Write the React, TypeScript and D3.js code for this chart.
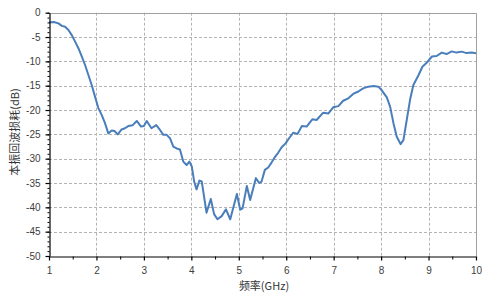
import * as d3 from 'd3';
import { useEffect, useRef } from 'react';

// frequency (GHz) and LO return loss (dB)
const freq = [
  1.0, 1.1, 1.2, 1.27, 1.34, 1.41, 1.48, 1.55, 1.62, 1.69,
  1.76, 1.83, 1.9, 1.97, 2.04, 2.11, 2.18, 2.25, 2.32, 2.38,
  2.45, 2.53, 2.6, 2.67, 2.76, 2.85, 2.94, 3.0, 3.06, 3.16,
  3.26, 3.34, 3.41, 3.48, 3.55, 3.62, 3.69, 3.76, 3.83, 3.9,
  3.96, 4.01, 4.06, 4.11, 4.17, 4.22, 4.32, 4.41, 4.48, 4.55,
  4.64, 4.73, 4.82, 4.96, 5.03, 5.08, 5.17, 5.24, 5.36, 5.43,
  5.48, 5.55, 5.62, 5.69, 5.76, 5.83, 5.9, 5.99, 6.06, 6.15,
  6.24, 6.33, 6.43, 6.55, 6.64, 6.78, 6.89, 6.99, 7.1, 7.2,
  7.31, 7.41, 7.52, 7.62, 7.73, 7.84, 7.94, 8.01, 8.12, 8.19,
  8.26, 8.33, 8.41, 8.47, 8.54, 8.61, 8.68, 8.79, 8.87, 8.96,
  9.07, 9.17, 9.28, 9.38, 9.49, 9.59, 9.7, 9.8, 9.91, 10.0,
];
const returnLoss = [
  -2.0, -1.9, -2.2, -2.7, -2.9, -3.55, -4.6, -5.95, -7.3, -9.0,
  -10.75, -12.8, -14.85, -17.25, -19.6, -21.0, -22.7, -24.8, -24.2, -24.3,
  -25.0, -24.0, -23.75, -23.3, -23.15, -22.25, -23.4, -23.3, -22.25, -23.75,
  -23.1, -24.1, -25.1, -25.1, -25.8, -27.5, -27.9, -28.1, -30.6, -31.3,
  -30.6, -31.6, -34.7, -36.3, -34.5, -34.7, -41.1, -38.3, -41.4, -42.45,
  -41.8, -40.4, -42.45, -37.25, -40.5, -40.2, -35.6, -38.5, -34.0, -35.0,
  -34.7, -32.3, -31.8, -30.8, -29.7, -28.8, -27.7, -26.8, -25.8, -24.65,
  -24.9, -23.3, -23.4, -21.9, -22.05, -20.55, -20.7, -19.45, -19.2, -18.1,
  -17.6, -16.7, -16.2, -15.55, -15.2, -15.05, -15.2, -15.9, -17.4, -19.3,
  -22.7, -25.5, -27.0, -26.2, -22.05, -17.9, -14.85, -12.8, -11.1, -10.3,
  -9.0, -8.9, -8.2, -8.5, -7.95, -8.2, -8.0, -8.3, -8.2, -8.35,
];
const xTicks = [1, 2, 3, 4, 5, 6, 7, 8, 9, 10];
const yTicks = [0, -5, -10, -15, -20, -25, -30, -35, -40, -45, -50];
const xLabel = '频率(GHz)';
const yLabel = '本振回波损耗(dB)';

const W = 482;
const H = 293;

const App = () => {
  const ref = useRef<SVGSVGElement>(null);

  useEffect(() => {
    const svg = d3.select(ref.current);
    svg.selectAll('*').remove();

    const x = d3.scaleLinear().domain([1, 10]).range([49, 476]);
    const y = d3.scaleLinear().domain([0, -50]).range([12.7, 256]);
    const [x0, x1] = x.range();
    const [y0, y1] = y.range();

    const grid = svg.append('g');
    grid
      .selectAll('line.v')
      .data(xTicks.slice(1, -1))
      .enter()
      .append('line')
      .attr('x1', (d) => Math.round(x(d)) + 0.5)
      .attr('x2', (d) => Math.round(x(d)) + 0.5)
      .attr('y1', y0)
      .attr('y2', y1)
      .style('stroke', '#b4b4b4')
      .style('stroke-dasharray', '3,2');
    grid
      .selectAll('line.h')
      .data(yTicks.slice(1, -1))
      .enter()
      .append('line')
      .attr('x1', x0)
      .attr('x2', x1)
      .attr('y1', (d) => Math.round(y(d)) + 0.5)
      .attr('y2', (d) => Math.round(y(d)) + 0.5)
      .style('stroke', '#b4b4b4')
      .style('stroke-dasharray', '3,2');

    // top and right frame
    svg
      .append('path')
      .attr('d', `M${x0},${Math.round(y0) + 0.5}H${Math.round(x1) + 0.5}V${y1}`)
      .style('fill', 'none')
      .style('stroke', '#a0a0a0');

    const line = d3
      .line<number>()
      .x((d, i) => x(freq[i]))
      .y((d) => y(d))
      .curve(d3.curveLinear);
    svg
      .append('path')
      .datum(returnLoss)
      .attr('d', line)
      .style('fill', 'none')
      .style('stroke', '#4a7ebb')
      .style('stroke-width', 2)
      .style('stroke-linejoin', 'round');

    const tickFont = (g) =>
      g
        .selectAll('text')
        .style('font-family', '"Liberation Sans", Arial, sans-serif')
        .style('font-size', '10px')
        .style('fill', '#404040');

    // minor ticks
    const yAxisMinor = d3
      .axisLeft(y)
      .tickValues(d3.range(0, -51, -1))
      .tickSize(2)
      .tickFormat(() => '');
    svg
      .append('g')
      .attr('transform', `translate(${Math.round(x0) + 0.5},0)`)
      .call(yAxisMinor)
      .call((g) => g.select('.domain').remove());
    const xAxisMinor = d3
      .axisBottom(x)
      .tickValues(d3.range(1.5, 10, 1))
      .tickSize(3)
      .tickFormat(() => '');
    svg
      .append('g')
      .attr('transform', `translate(0,${Math.round(y1) + 0.5})`)
      .call(xAxisMinor)
      .call((g) => g.select('.domain').remove());

    const yAxis = d3
      .axisLeft(y)
      .tickValues(yTicks)
      .tickSize(4)
      .tickSizeOuter(0)
      .tickPadding(5)
      .tickFormat((d) => String(d).replace('−', '-'));
    svg
      .append('g')
      .attr('transform', `translate(${Math.round(x0) + 0.5},0)`)
      .call(yAxis)
      .call(tickFont)
      .call((g) => g.selectAll('path,line').style('stroke', '#000').style('stroke-width', 1.2));

    const xAxis = d3
      .axisBottom(x)
      .tickValues(xTicks)
      .tickSize(4)
      .tickSizeOuter(0)
      .tickPadding(6)
      .tickFormat(d3.format('d'));
    svg
      .append('g')
      .attr('transform', `translate(0,${Math.round(y1) + 0.5})`)
      .call(xAxis)
      .call(tickFont)
      .call((g) => g.selectAll('path,line').style('stroke', '#000').style('stroke-width', 1.2));

    svg
      .append('text')
      .attr('x', 264)
      .attr('y', 290)
      .attr('text-anchor', 'middle')
      .style('font-family', '"Noto Sans CJK SC", sans-serif')
      .style('font-size', '11px')
      .style('fill', '#333')
      .text(xLabel);

    svg
      .append('text')
      .attr('transform', `translate(19,132) rotate(-90)`)
      .attr('text-anchor', 'middle')
      .style('font-family', '"Noto Sans CJK SC", sans-serif')
      .style('font-size', '11px')
      .style('fill', '#333')
      .text(yLabel);
  }, []);

  return (
    <svg
      ref={ref}
      width={W}
      height={H}
      style={{ position: 'absolute', left: 0, top: 0, background: '#fff' }}
    ></svg>
  );
};

export default App;
